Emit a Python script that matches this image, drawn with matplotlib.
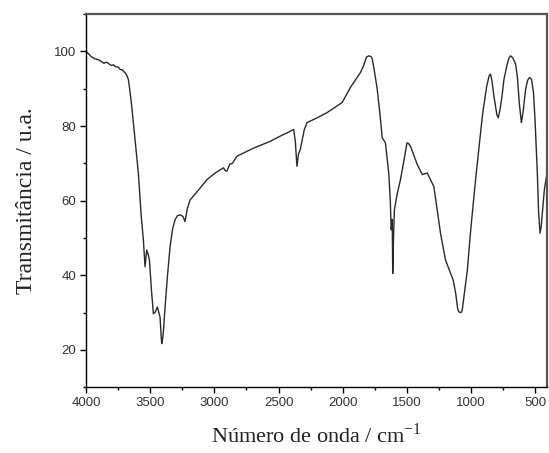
import matplotlib.pyplot as plt
from matplotlib.ticker import MultipleLocator

# IR spectrum (wavenumber, transmittance)
wavenumber = [4000, 3975, 3960, 3930, 3905, 3891, 3875, 3860, 3845, 3830, 3815,
              3800, 3785, 3770, 3750, 3735, 3715, 3700, 3685, 3670, 3660,
              3644, 3620, 3592, 3570, 3553, 3540, 3532, 3527, 3515, 3506, 3490,
              3475, 3460, 3444, 3432, 3423, 3415, 3410, 3403, 3397, 3384, 3365,
              3345, 3325, 3306, 3287, 3267, 3245, 3229, 3210, 3189, 3120, 3059,
              2990, 2929, 2915, 2903, 2880, 2860, 2825, 2700, 2565, 2487, 2420,
              2383, 2370, 2357, 2345, 2331, 2300, 2279, 2200, 2122, 2005, 1941,
              1863, 1840, 1815, 1798, 1780, 1771, 1755, 1732, 1710, 1693, 1668,
              1642, 1630, 1623, 1615, 1611, 1605, 1598, 1575, 1551, 1520, 1500,
              1490, 1473, 1420, 1381, 1342, 1291, 1239, 1200, 1140, 1120, 1105,
              1096, 1080, 1070, 1050, 1030, 1005, 966, 913, 880, 860, 849, 838,
              823, 800, 789, 775, 760, 745, 720, 705, 693, 675, 654, 640, 625,
              609, 595, 576, 560, 545, 530, 515, 503, 493, 485, 475, 464, 455,
              445, 430, 405]
transmittance = [100.0, 99.2, 98.6, 98.0, 97.8, 97.5, 97.2, 96.8, 97.1, 96.9,
                 96.5, 96.2, 96.4, 95.9, 95.8, 95.2, 95.0, 94.4, 93.8, 92.5,
                 90.0, 85.4, 77.0, 67.4, 56.0, 49.5, 42.3, 45.0, 46.8, 45.5,
                 44.1, 36.0, 29.7, 30.2, 31.5, 30.0, 28.8, 24.0, 21.7, 23.0,
                 25.0, 31.5, 40.0, 47.7, 52.5, 54.9, 56.0, 56.2, 55.8, 54.4,
                 58.0, 60.2, 63.0, 65.6, 67.5, 68.8, 68.0, 67.9, 69.8, 70.0,
                 71.9, 74.0, 75.9, 77.3, 78.4, 79.1, 76.0, 69.2, 72.5, 73.7,
                 79.0, 80.9, 82.2, 83.6, 86.3, 90.3, 94.3, 96.0, 98.5, 98.8,
                 98.6, 98.0, 95.0, 89.9, 83.0, 76.9, 75.5, 67.4, 60.0, 52.2,
                 55.0, 40.5, 50.0, 57.6, 62.0, 65.6, 71.5, 75.5, 75.4, 74.6,
                 69.7, 67.0, 67.4, 63.8, 51.3, 44.1, 38.7, 35.0, 31.0, 30.2,
                 30.0, 30.6, 36.0, 41.4, 51.7, 65.6, 82.7, 90.5, 93.5, 93.9,
                 92.0, 88.0, 83.0, 82.2, 84.5, 88.0, 92.5, 96.5, 98.3, 98.8,
                 98.2, 96.6, 93.0, 86.0, 80.9, 84.0, 89.9, 92.3, 93.0, 92.5,
                 89.0, 81.8, 74.0, 67.4, 57.0, 51.3, 53.0, 57.0, 63.0, 68.3]

x_ticks = [4000, 3500, 3000, 2500, 2000, 1500, 1000, 500]
y_ticks = [20, 40, 60, 80, 100]

plt.rcParams['font.family'] = ['Liberation Sans', 'DejaVu Sans']
plt.rcParams['mathtext.fontset'] = 'custom'
plt.rcParams['mathtext.rm'] = 'Liberation Serif'

fig = plt.figure(figsize=(5.49, 4.53), dpi=100)
ax = fig.add_axes([0.1566, 0.145, 0.9958 - 0.1566, 0.969 - 0.145])

ax.plot(wavenumber, transmittance, color='#2a2a2a', lw=1.0)

ax.set_xlim(4000, 412)
ax.set_ylim(10, 110)
ax.set_xticks(x_ticks)
ax.set_yticks(y_ticks)
ax.xaxis.set_minor_locator(MultipleLocator(250))
ax.yaxis.set_minor_locator(MultipleLocator(10))
ax.tick_params(which='major', direction='out', length=4, width=1,
               labelsize=9.5, labelcolor='#333333', pad=3)
ax.tick_params(which='minor', direction='out', length=2.5, width=1)

for side in ['left', 'bottom']:
    ax.spines[side].set_linewidth(1.0)
for side in ['top', 'right']:
    ax.spines[side].set_linewidth(1.6)
    ax.spines[side].set_color('#555555')

ax.set_ylabel('Transmitância / u.a.', family='Liberation Serif', fontsize=17,
              color='#222222', labelpad=12)
ax.set_xlabel(r'Número de onda / cm$^{\mathregular{-1}}$',
              family='Liberation Serif', fontsize=16, color='#222222',
              labelpad=10)

fig.savefig('out.png', dpi=100)
